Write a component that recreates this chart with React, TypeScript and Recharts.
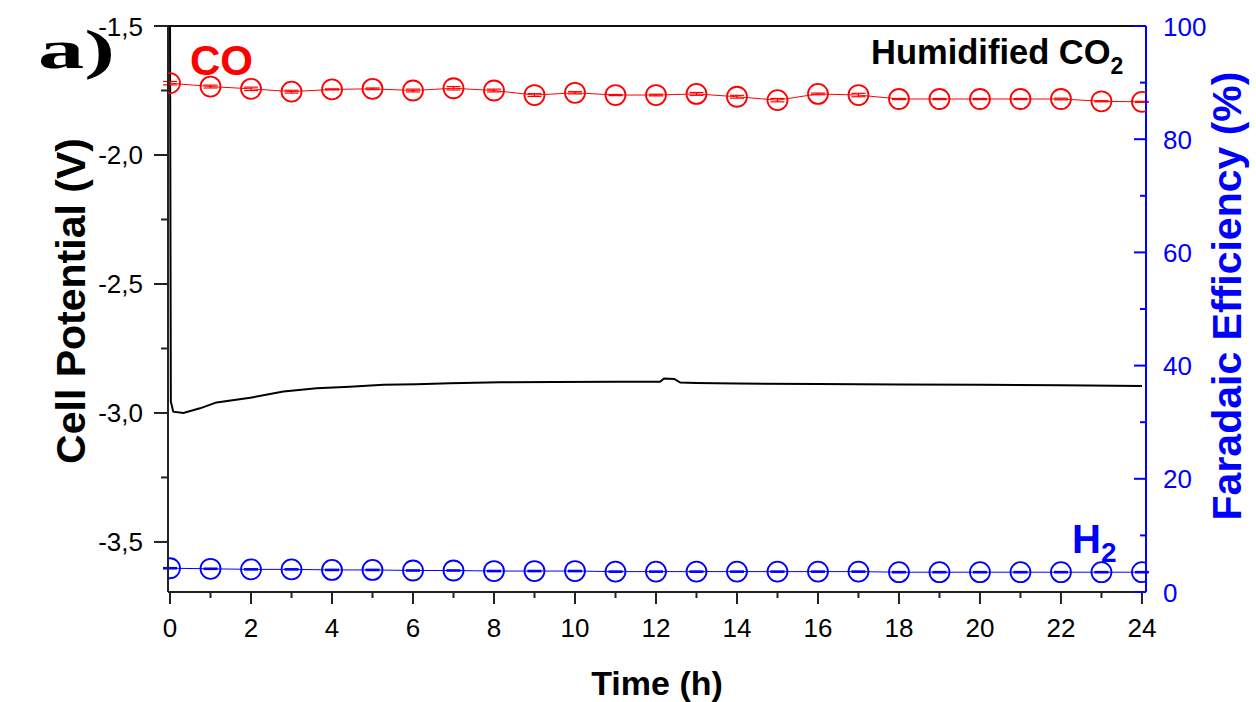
import { ComposedChart, Line, XAxis, YAxis, ErrorBar, ReferenceLine } from 'recharts';

// faradaic efficiency, sampled every hour
const hours = [0, 1, 2, 3, 4, 5, 6, 7, 8, 9, 10, 11, 12, 13, 14, 15, 16, 17, 18, 19, 20, 21, 22, 23, 24];
const coFE = [89.9, 89.3, 88.9, 88.4, 88.8, 88.9, 88.6, 89.0, 88.6, 87.8, 88.2, 87.8, 87.8, 88.0, 87.5, 86.9, 88.0, 87.8, 87.1, 87.1, 87.1, 87.1, 87.1, 86.7, 86.6];
const coErr = [0.3, 0.25, 0.3, 0.25, 0.1, 0.15, 0.25, 0.3, 0.25, 0.25, 0.2, 0.1, 0.15, 0.25, 0.25, 0.3, 0.15, 0.3, 0.1, 0.1, 0.1, 0.1, 0.15, 0.1, 0.1];
const h2FE = [4.2, 4.1, 4.0, 4.0, 3.9, 3.9, 3.8, 3.8, 3.7, 3.7, 3.7, 3.6, 3.6, 3.6, 3.6, 3.6, 3.6, 3.6, 3.5, 3.5, 3.5, 3.5, 3.5, 3.5, 3.5];
const h2Err = [0.1, 0.1, 0.1, 0.1, 0.1, 0.1, 0.1, 0.1, 0.1, 0.1, 0.1, 0.1, 0.1, 0.1, 0.1, 0.1, 0.1, 0.1, 0.1, 0.1, 0.1, 0.1, 0.1, 0.1, 0.1];

// cell potential trace
const potTime = [0, 0.02, 0.08, 0.33, 0.74, 1.15, 1.98, 2.8, 3.62, 4.44, 5.27, 6.09, 6.91, 8.15, 9.5, 11, 12.1, 12.2, 12.45, 12.6, 13, 14, 16, 18, 20, 22, 24];
const potV = [-1.5, -2.956, -2.995, -3.0, -2.982, -2.959, -2.941, -2.917, -2.904, -2.898, -2.891, -2.889, -2.885, -2.881, -2.88, -2.879, -2.879, -2.866, -2.868, -2.882, -2.884, -2.886, -2.888, -2.89, -2.891, -2.893, -2.895];

const xTicks = [0, 1, 2, 3, 4, 5, 6, 7, 8, 9, 10, 11, 12, 13, 14, 15, 16, 17, 18, 19, 20, 21, 22, 23, 24];
const leftTicks = [-3.5, -3.25, -3.0, -2.75, -2.5, -2.25, -2.0, -1.75, -1.5];
const rightTicks = [0, 10, 20, 30, 40, 50, 60, 70, 80, 90, 100];

const coRows = hours.map((t, i) => ({ t, co: coFE[i], coErr: coErr[i] }));
const h2Rows = hours.map((t, i) => ({ t, h2: h2FE[i], h2Err: h2Err[i] }));
const potRows = potTime.map((t, i) => ({ t, v: potV[i] }));

const FONT = '"Liberation Sans", Arial, sans-serif';
const RED = '#ff0000';
const BLUE = '#0000ff';

const XTick = ({ x, y, payload }: any) => {
  const major = payload.value % 2 === 0;
  return (
    <g>
      <line x1={x} x2={x} y1={y} y2={y + (major ? 12 : 6)} stroke="#222" strokeWidth={2} />
      {major && (
        <text x={x} y={y + 45} textAnchor="middle" fontSize={26} fontFamily={FONT} fill="#000">
          {payload.value}
        </text>
      )}
    </g>
  );
};

const LeftTick = ({ x, y, payload }: any) => {
  const v = payload.value;
  const major = Math.abs(v * 2 - Math.round(v * 2)) < 1e-6;
  return (
    <g>
      <line x1={x - (major ? 14 : 7)} x2={x} y1={y} y2={y} stroke="#222" strokeWidth={2} />
      {major && (
        <text x={x - 25} y={y + 9.5} textAnchor="end" fontSize={26} fontFamily={FONT} fill="#000">
          {v.toFixed(1).replace('.', ',')}
        </text>
      )}
    </g>
  );
};

const RightTick = ({ x, y, payload }: any) => {
  const major = payload.value % 20 === 0;
  return (
    <g>
      <line x1={x - (major ? 12 : 6)} x2={x} y1={y} y2={y} stroke={BLUE} strokeWidth={2} />
      {major && (
        <text x={x + 17} y={y + 9.5} textAnchor="start" fontSize={26} fontFamily={FONT} fill={BLUE}>
          {payload.value}
        </text>
      )}
    </g>
  );
};

export default function App() {
  return (
    <div style={{ position: 'absolute', left: 0, top: 0, width: 1256, height: 702, background: '#fff' }}>
      <ComposedChart width={1256} height={702} margin={{ top: 26, right: 0, bottom: 0, left: 0 }}>
        <XAxis
          type="number"
          dataKey="t"
          domain={[-0.05, 24.1]}
          ticks={xTicks}
          allowDataOverflow
          height={110}
          tickSize={0}
          tickMargin={0}
          tick={<XTick />}
          axisLine={{ stroke: '#222', strokeWidth: 2 }}
          interval={0}
        />
        <YAxis
          yAxisId="left"
          orientation="left"
          type="number"
          domain={[-3.694, -1.5]}
          ticks={leftTicks}
          allowDataOverflow
          width={168}
          tickSize={0}
          tickMargin={0}
          tick={<LeftTick />}
          axisLine={{ stroke: '#222', strokeWidth: 2 }}
          interval={0}
        />
        <YAxis
          yAxisId="right"
          orientation="right"
          type="number"
          domain={[0, 100]}
          ticks={rightTicks}
          allowDataOverflow
          width={110}
          tickSize={0}
          tickMargin={0}
          tick={<RightTick />}
          axisLine={{ stroke: BLUE, strokeWidth: 2 }}
          interval={0}
        />
        <ReferenceLine yAxisId="left" y={-1.5} stroke="#111" strokeWidth={2} />
        <Line
          yAxisId="left"
          data={potRows}
          dataKey="v"
          type="linear"
          stroke="#000"
          strokeWidth={2}
          dot={false}
          activeDot={false}
          isAnimationActive={false}
        />
        <Line
          yAxisId="right"
          data={coRows}
          dataKey="co"
          type="linear"
          stroke={RED}
          strokeWidth={1}
          dot={{ r: 10, fill: 'none', stroke: RED, strokeWidth: 1.8 }}
          activeDot={false}
          isAnimationActive={false}
        >
          <ErrorBar dataKey="coErr" width={7} stroke={RED} strokeWidth={1.2} direction="y" />
        </Line>
        <Line
          yAxisId="right"
          data={h2Rows}
          dataKey="h2"
          type="linear"
          stroke={BLUE}
          strokeWidth={1}
          dot={{ r: 10, fill: 'none', stroke: BLUE, strokeWidth: 1.8 }}
          activeDot={false}
          isAnimationActive={false}
        >
          <ErrorBar dataKey="h2Err" width={7} stroke={BLUE} strokeWidth={1.5} direction="y" />
        </Line>
      </ComposedChart>
      <svg
        width={1256}
        height={702}
        style={{ position: 'absolute', left: 0, top: 0, pointerEvents: 'none' }}
      >
        <text
          x={38}
          y={68}
          fontSize={55}
          fontWeight="bold"
          fontFamily='"Liberation Serif", "Times New Roman", serif'
          fill="#000"
          textLength={77}
          lengthAdjust="spacingAndGlyphs"
        >
          a)
        </text>
        <text x={190} y={75} fontSize={42} fontWeight="bold" fontFamily={FONT} fill={RED}>
          CO
        </text>
        <text x={871} y={64} fontSize={34.5} fontWeight="bold" fontFamily={FONT} fill="#000">
          Humidified CO<tspan fontSize={23} dy={10}>2</tspan>
        </text>
        <text x={1072} y={553} fontSize={40} fontWeight="bold" fontFamily={FONT} fill={BLUE}>
          H<tspan fontSize={28} dy={9}>2</tspan>
        </text>
        <text x={657} y={695} fontSize={34} fontWeight="bold" fontFamily={FONT} fill="#000" textAnchor="middle">
          Time (h)
        </text>
        <text
          transform="translate(85, 301) rotate(-90)"
          fontSize={41}
          fontWeight="bold"
          fontFamily={FONT}
          fill="#000"
          textAnchor="middle"
        >
          Cell Potential (V)
        </text>
        <text
          transform="translate(1241, 296) rotate(-90)"
          fontSize={41}
          fontWeight="bold"
          fontFamily={FONT}
          fill={BLUE}
          textAnchor="middle"
        >
          Faradaic Efficiency (%)
        </text>
      </svg>
    </div>
  );
}
